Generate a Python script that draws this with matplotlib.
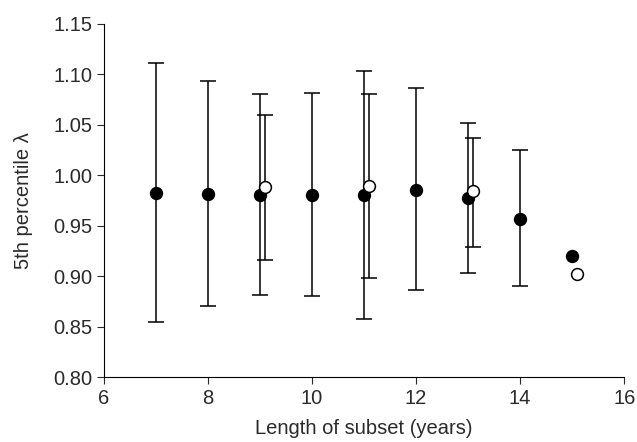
import numpy as np
import matplotlib
matplotlib.use('Agg')
import matplotlib.pyplot as plt

# filled series: full record
x_full = [7, 8, 9, 10, 11, 12, 13, 14, 15]
y_full = [0.982, 0.981, 0.980, 0.980, 0.980, 0.985, 0.977, 0.957, 0.920]
hi_full = [1.111, 1.093, 1.080, 1.081, 1.103, 1.086, 1.052, 1.025, np.nan]
lo_full = [0.855, 0.870, 0.881, 0.880, 0.858, 0.886, 0.903, 0.890, np.nan]

# open series: offset slightly to the right
x_open = [9.1, 11.1, 13.1, 15.1]
y_open = [0.988, 0.989, 0.984, 0.902]
hi_open = [1.060, 1.080, 1.037, np.nan]
lo_open = [0.916, 0.898, 0.929, np.nan]

plt.rcParams['font.family'] = ['Liberation Sans', 'DejaVu Sans']

fig = plt.figure(figsize=(6.37, 4.42), dpi=100)
ax = fig.add_axes([0.163, 0.147, 0.817, 0.799])


def draw(xs, ys, hi, lo, face):
    ys = np.array(ys)
    err = np.array([ys - np.array(lo), np.array(hi) - ys])
    ax.errorbar(xs, ys, yerr=err, fmt='none', ecolor='black',
                elinewidth=1.1, capsize=6, capthick=1.1, zorder=2)
    ax.plot(xs, ys, 'o', ms=8.5, mfc=face, mec='black', mew=1.1,
            linestyle='none', zorder=3)


draw(x_full, y_full, hi_full, lo_full, 'black')
draw(x_open, y_open, hi_open, lo_open, 'white')

ax.set_xlim(6, 16)
ax.set_ylim(0.80, 1.15)
ax.set_xticks([6, 8, 10, 12, 14, 16])
ax.set_yticks(np.arange(0.80, 1.151, 0.05))
ax.set_yticklabels(['%.2f' % v for v in np.arange(0.80, 1.151, 0.05)])
ax.spines['top'].set_visible(False)
ax.spines['right'].set_visible(False)
ax.tick_params(direction='out', length=5, labelsize=14.5, colors='#2a2a2a')
ax.set_xlabel('Length of subset (years)', fontsize=14.5, color='#2a2a2a', labelpad=8)
ax.set_ylabel('5th percentile λ', fontsize=14.5, color='#2a2a2a', labelpad=14)

fig.savefig('out.png', dpi=100)
